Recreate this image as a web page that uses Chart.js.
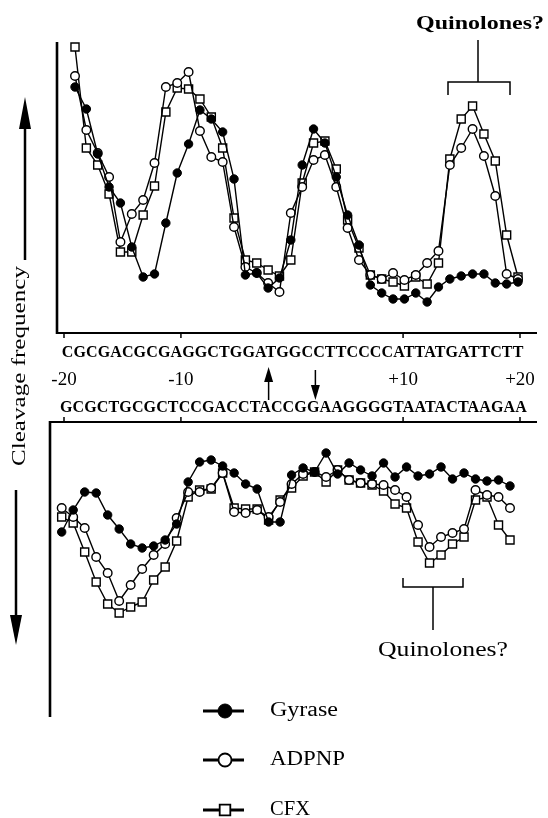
<!DOCTYPE html>
<html><head><meta charset="utf-8">
<script src="https://cdn.jsdelivr.net/npm/chart.js@4.4.0/dist/chart.umd.min.js"></script>
<style>html,body{margin:0;padding:0;background:#fff;}canvas{display:block;}</style>
</head><body>
<canvas id="c" width="548" height="818"></canvas>
<script>
// ---------- data ----------
const seqTop = "CGCGACGCGAGGCTGGATGGCCTTCCCCATTATGATTCTT";
const seqBottom = "GCGCTGCGCTCCGACCTACCGGAAGGGGTAATACTAAGAA";
const tickPositions = [0, 10, 29, 39];          // nucleotide index in the sequence
const tickLabels = ["-20", "-10", "+10", "+20"];
const seriesNames = ["Gyrase", "ADPNP", "CFX"];
const cutSites = [17.5, 21.5];                    // arrows between bases
const quinoloneLabel = "Quinolones?";
const axisTitle = "Cleavage frequency";

const topGyrase = [246,224,179,146,130,86,56,59,110,160,189,223,214,201,154,58,60,45,55,93,168,204,190,156,118,88,48,40,34,34,40,31,46,54,57,59,59,50,49,51];
const topADPNP  = [257,203,180,156,91,119,133,170,246,250,261,202,176,171,106,66,60,50,41,120,146,173,178,146,105,73,58,54,60,53,58,70,82,168,185,204,177,137,59,54];
const topCFX    = [286,185,168,139,81,81,118,147,221,245,244,234,216,185,115,73,70,63,57,73,150,190,192,164,113,85,58,54,51,47,56,49,70,174,214,227,199,172,98,56];

const botGyrase = [110,88,70,71,93,107,122,126,124,118,102,60,40,38,44,51,62,67,100,100,53,46,50,31,52,41,48,54,41,55,45,54,52,45,57,51,57,59,58,64];
const botADPNP  = [86,95,106,135,151,179,163,147,133,122,96,70,70,66,51,90,91,88,95,80,62,52,50,55,48,58,61,62,63,68,75,103,125,115,111,107,68,73,75,86];
const botCFX    = [95,101,130,160,182,191,185,180,158,145,119,75,68,67,51,86,87,87,98,78,66,54,50,60,48,58,61,63,69,82,86,120,141,133,122,115,78,75,103,118];

// ---------- layout ----------
const AREA = {left: 50, right: 537, top: 42, bottom: 717};
const TOP_BASE = 333, BOT_BASE = 422, TOP_AXIS_X = 57;
function linRange(p0, p1, n) {
  const ppu = (p1 - p0) / n;
  return {min: -(p0 - AREA.left) / ppu, max: n + (AREA.right - p1) / ppu};
}
const xTopR = linRange(75, 518, topGyrase.length - 1);
const xBotR = linRange(61.7, 510, botGyrase.length - 1);
const ntR = linRange(64, 520, seqTop.length - 1);

const styles = [
  {pointStyle: 'circle', pointRadius: 4.2, pointBackgroundColor: '#000', pointBorderWidth: 1},
  {pointStyle: 'circle', pointRadius: 4.3, pointBackgroundColor: '#fff', pointBorderWidth: 1.4},
  {pointStyle: 'rect', pointRadius: 5.7, pointBackgroundColor: '#fff', pointBorderWidth: 1.4}
];
const toXY = arr => arr.map((v, i) => ({x: i, y: v}));
function ds(name, arr, si, xId, yId) {
  return Object.assign({
    label: name, data: toXY(arr), xAxisID: xId, yAxisID: yId,
    borderColor: '#000', pointBorderColor: '#000', borderWidth: 1.4,
    tension: 0, fill: false
  }, styles[si]);
}
const datasets = [
  ds(seriesNames[0], topGyrase, 0, 'xTop', 'yTop'),
  ds(seriesNames[0], botGyrase, 0, 'xBot', 'yBot'),
  ds(seriesNames[1], topADPNP, 1, 'xTop', 'yTop'),
  ds(seriesNames[1], botADPNP, 1, 'xBot', 'yBot'),
  ds(seriesNames[2], topCFX, 2, 'xTop', 'yTop'),
  ds(seriesNames[2], botCFX, 2, 'xBot', 'yBot')
];

const SERIF = '"Liberation Serif", "DejaVu Serif", serif';
function fitText(ctx, text, x, y, font, width, align) {
  ctx.save();
  ctx.font = font; ctx.textBaseline = 'middle'; ctx.textAlign = align || 'center';
  const w = ctx.measureText(text).width;
  ctx.translate(x, y);
  if (width) ctx.scale(width / w, 1);
  ctx.fillText(text, 0, 0);
  ctx.restore();
}
function seqText(ctx, text, x, y, width) {
  ctx.save();
  ctx.font = 'bold 16px ' + SERIF; ctx.textBaseline = 'middle'; ctx.textAlign = 'left';
  const w = ctx.measureText(text).width;
  if ('letterSpacing' in ctx) {
    ctx.letterSpacing = ((width - w) / (text.length - 1)) + 'px';
    ctx.fillText(text, x, y);
  } else {
    ctx.translate(x, y); ctx.scale(width / w, 1); ctx.fillText(text, 0, 0);
  }
  ctx.restore();
}
function arrow(ctx, x, yTail, yTip, headLen, headW, lw) {
  const dir = yTip < yTail ? -1 : 1;
  ctx.save();
  ctx.lineWidth = lw;
  ctx.beginPath(); ctx.moveTo(x, yTail); ctx.lineTo(x, yTip - dir * headLen * 0.8); ctx.stroke();
  ctx.beginPath();
  ctx.moveTo(x, yTip);
  ctx.lineTo(x - headW / 2, yTip - dir * headLen);
  ctx.lineTo(x + headW / 2, yTip - dir * headLen);
  ctx.closePath(); ctx.fill();
  ctx.restore();
}
function line(ctx, pts, lw) {
  ctx.save(); ctx.lineWidth = lw; ctx.beginPath();
  pts.forEach((p, i) => i ? ctx.lineTo(p[0], p[1]) : ctx.moveTo(p[0], p[1]));
  ctx.stroke(); ctx.restore();
}

const decor = {
  id: 'decor',
  beforeDatasetsDraw(chart) {
    const ctx = chart.ctx, s = chart.scales, a = chart.chartArea;
    ctx.save();
    ctx.strokeStyle = '#000'; ctx.fillStyle = '#000'; ctx.lineCap = 'butt';
    const yT0 = s.yTop.getPixelForValue(0), yTtop = s.yTop.getPixelForValue(s.yTop.max);
    const yB0 = s.yBot.getPixelForValue(0), yBend = s.yBot.getPixelForValue(s.yBot.max);
    // top panel axes
    line(ctx, [[TOP_AXIS_X, yTtop], [TOP_AXIS_X, yT0 + 1]], 2.6);
    line(ctx, [[TOP_AXIS_X - 1, yT0], [a.right, yT0]], 2);
    // bottom panel axes
    line(ctx, [[a.left - 1, yB0], [a.right, yB0]], 2);
    line(ctx, [[a.left, yB0 - 1], [a.left, yBend]], 2.6);
    tickPositions.forEach(p => {
      const x = s.nt.getPixelForValue(p);
      line(ctx, [[x, yT0], [x, yT0 + 5]], 1.5);
      line(ctx, [[x, yB0], [x, yB0 - 5]], 1.5);
    });
    ctx.restore();
  },
  afterDraw(chart) {
    const ctx = chart.ctx, s = chart.scales;
    ctx.save();
    ctx.strokeStyle = '#000'; ctx.fillStyle = '#000';
    // sequences
    seqText(ctx, seqTop, 61.7, 353, 461.6);
    seqText(ctx, seqBottom, 60, 408, 466.7);
    // tick labels
    tickPositions.forEach((p, i) => {
      fitText(ctx, tickLabels[i], s.nt.getPixelForValue(p), 380, '19px ' + SERIF, null, 'center');
    });
    // cut-site arrows
    arrow(ctx, s.nt.getPixelForValue(cutSites[0]), 400, 367, 15, 9, 1.5);
    arrow(ctx, s.nt.getPixelForValue(cutSites[1]), 370, 400, 15, 9, 1.5);
    // left arrows + title
    arrow(ctx, 25, 260, 97, 32, 12, 2.5);
    arrow(ctx, 16, 490, 645, 30, 12, 2.5);
    ctx.save();
    ctx.translate(20, 366); ctx.rotate(-Math.PI / 2);
    fitText(ctx, axisTitle, 0, 0, '19px ' + SERIF, 200, 'center');
    ctx.restore();
    // quinolone brackets
    line(ctx, [[478, 40], [478, 82]], 1.5);
    line(ctx, [[448, 95], [448, 82], [510, 82], [510, 95]], 1.5);
    fitText(ctx, quinoloneLabel, 480, 24, 'bold 19px ' + SERIF, 128, 'center');
    line(ctx, [[403, 578], [403, 587], [463, 587], [463, 578]], 1.5);
    line(ctx, [[433, 587], [433, 630]], 1.5);
    fitText(ctx, quinoloneLabel, 443, 651, '20px ' + SERIF, 130, 'center');
    // legend
    const rows = [711, 760, 810];
    const sizes = [7, 6.5, 7.5];
    const widths = [68, 75, 40];
    seriesNames.forEach((name, i) => {
      const st = styles[i], y = rows[i];
      line(ctx, [[203, y], [244, y]], 3);
      ctx.save();
      ctx.fillStyle = st.pointBackgroundColor; ctx.strokeStyle = '#000';
      ctx.lineWidth = i === 0 ? 1 : 1.8;
      Chart.helpers.drawPoint(ctx, {pointStyle: st.pointStyle, radius: sizes[i], borderWidth: ctx.lineWidth, rotation: 0}, 225, y);
      ctx.restore();
      fitText(ctx, name, 270, y, '20px ' + SERIF, widths[i], 'left');
    });
    ctx.restore();
  }
};

new Chart(document.getElementById('c'), {
  type: 'line',
  data: {datasets},
  options: {
    responsive: false, animation: false, devicePixelRatio: 1,
    layout: {padding: {left: AREA.left, right: 548 - AREA.right, top: AREA.top, bottom: 818 - AREA.bottom}},
    plugins: {legend: {display: false}, tooltip: {enabled: false}},
    events: [],
    scales: {
      xTop: {type: 'linear', axis: 'x', position: 'bottom', display: false, min: xTopR.min, max: xTopR.max},
      xBot: {type: 'linear', axis: 'x', position: 'bottom', display: false, min: xBotR.min, max: xBotR.max},
      nt:   {type: 'linear', axis: 'x', position: 'bottom', display: false, min: ntR.min, max: ntR.max},
      yTop: {type: 'linear', axis: 'y', position: 'left', display: false, min: -(AREA.bottom - TOP_BASE), max: TOP_BASE - AREA.top},
      yBot: {type: 'linear', axis: 'y', position: 'left', display: false, reverse: true, min: -(BOT_BASE - AREA.top), max: AREA.bottom - BOT_BASE}
    }
  },
  plugins: [decor]
});
</script>
</body></html>
